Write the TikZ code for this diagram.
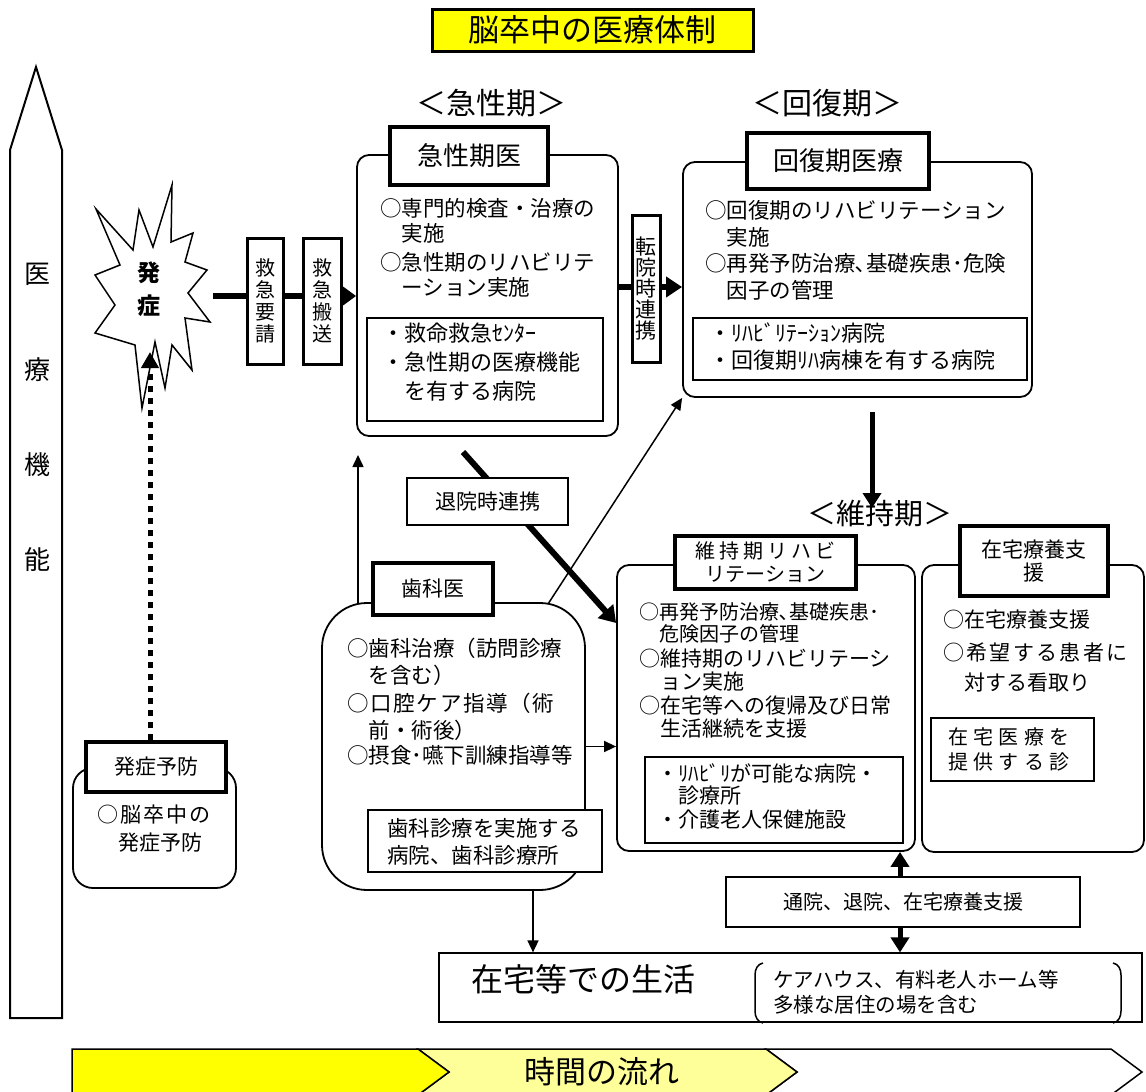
\documentclass[tikz,border=0pt]{standalone}
\usepackage{fontspec}
\setmainfont{Noto Sans CJK JP}
\usetikzlibrary{arrows.meta}
\definecolor{ylw}{RGB}{255,255,0}
\definecolor{lylw}{RGB}{255,255,153}
\newcommand\myfs[1]{\fontsize{#1}{#1}\selectfont}
\newcommand\myfsb[2]{\fontsize{#1}{#2}\selectfont\lineskiplimit=-100pt\relax}
\newcommand\lsp[2]{{\addfontfeature{LetterSpace=#1}#2}}
\pgfdeclarelayer{bg}
\pgfsetlayers{bg,main}
\tikzset{
 rbox/.style={draw, line width=1.8pt, rounded corners=12pt, fill=white, inner sep=0pt},
 tbox/.style={draw, line width=3.5pt, fill=white, inner sep=0pt, align=center},
 ibox/.style={draw, line width=1.8pt, fill=white, inner sep=0pt},
 vbox/.style={draw, line width=3pt, fill=white, inner sep=0pt, align=center},
 txt/.style={inner sep=0pt, anchor=north west, align=left},
 fatarrow/.style={line width=6pt, -{Triangle[length=16pt,width=20pt]}},
 midarrow/.style={line width=5pt, -{Triangle[length=15pt,width=18pt]}},
 slimarrow/.style={line width=1.5pt, -{Triangle[length=12pt,width=11pt]}},
 dotarrow/.style={line width=5pt, dash pattern=on 6pt off 6pt, -{Triangle[length=16pt,width=17pt]}},
}
\begin{document}
\begin{tikzpicture}[x=1pt,y=-1pt]
\useasboundingbox (0,0) rectangle (1146,1092);
\begin{pgfonlayer}{bg}
\fill[white] (0,0) rectangle (1146,1092);
\end{pgfonlayer}

% title
\node[draw, line width=3pt, fill=ylw, minimum width=321pt, minimum height=42pt, inner sep=0pt, font=\myfs{31}] (title) at (592.5,30) {脳卒中の医療体制};

% headers
\node[font=\myfs{30}, inner sep=0pt] (hA) at (491,103) {＜急性期＞};
\node[font=\myfs{30}, inner sep=0pt] (hR) at (827,103) {＜回復期＞};
\node[font=\myfs{29}, inner sep=0pt] (hM) at (880,514) {＜維持期＞};

% left vertical arrow
\draw[line width=2pt, fill=white] (10,150) -- (36,67) -- (62,150) -- (62,1018) -- (10,1018) -- cycle;
\node[font=\myfs{26}, inner sep=0pt] (k1) at (37,274) {医};
\node[font=\myfs{26}, inner sep=0pt] (k2) at (37,370) {療};
\node[font=\myfs{26}, inner sep=0pt] (k3) at (37,465) {機};
\node[font=\myfs{26}, inner sep=0pt] (k4) at (37,560) {能};

% star
\draw[line width=1.5pt, fill=white] (172,185) -- (171,242) -- (193,233) -- (185,262) -- (207,270) -- (188,293) -- (210,322) -- (185,318) -- (192,370) -- (172,345) -- (165,388) -- (155,342) -- (142,408) -- (135,345) -- (95,333) -- (115,305) -- (95,275) -- (120,265) -- (96,209) -- (133,250) -- (139,210) -- (153,247) -- cycle;
\node[font=\myfsb{23}{33}\bfseries, align=center, inner sep=0pt] (onset) at (149,289) {発\\症};

% main boxes
\node[rbox, minimum width=261pt, minimum height=281pt] (acute) at (487.5,295.5) {};
\node[rbox, minimum width=349pt, minimum height=235pt] (recov) at (857.5,279.5) {};
\node[rbox, rounded corners=45pt, minimum width=263pt, minimum height=287pt] (dent) at (453.5,746.5) {};
\node[rbox, minimum width=298pt, minimum height=286pt] (maint) at (766,708) {};
\node[rbox, minimum width=222pt, minimum height=287pt] (home) at (1033,708.5) {};
\node[rbox, rounded corners=20pt, minimum width=163pt, minimum height=120pt] (prev) at (154.5,828) {};

% title boxes
\node[tbox, minimum width=158pt, minimum height=58pt, font=\myfs{26}] (acuteT) at (469,156) {急性期医};
\node[tbox, minimum width=182pt, minimum height=56pt, font=\myfs{26}] (recovT) at (838,161) {回復期医療};
\node[tbox, minimum width=120pt, minimum height=52pt, font=\myfs{21}] (dentT) at (433,589) {歯科医};
\node[tbox, minimum width=181pt, minimum height=53pt, font=\myfsb{20}{23}] (maintT) at (765.5,562.5) {\lsp{20}{維持期リハビ}\\リテーション};
\node[tbox, minimum width=148pt, minimum height=70pt, font=\myfsb{21}{23}] (homeT) at (1034,561) {在宅療養支\\援};
\node[tbox, minimum width=140pt, minimum height=50pt, font=\myfs{21}] (prevT) at (156,767) {発症予防};

% inner boxes
\node[ibox, minimum width=236pt, minimum height=103pt] (acuteI) at (485,369.5) {};
\node[ibox, minimum width=334pt, minimum height=62pt] (recovI) at (860,349) {};
\node[ibox, minimum width=234pt, minimum height=62pt] (dentI) at (485,841) {};
\node[ibox, minimum width=258pt, minimum height=86pt] (maintI) at (774,800) {};
\node[ibox, minimum width=163pt, minimum height=63pt] (homeI) at (1012.5,749.5) {};

% small boxes
\node[vbox, minimum width=36pt, minimum height=126pt, font=\myfsb{20}{22}] (req) at (265,301) {救\\急\\要\\請};
\node[vbox, minimum width=38pt, minimum height=126pt, font=\myfsb{20}{22}] (trans) at (322,301) {救\\急\\搬\\送};
\node[vbox, minimum width=28pt, minimum height=147pt, font=\myfsb{21}{20.8}] (tenin) at (646,288.5) {転\\院\\時\\連\\携};
\node[ibox, line width=1.2pt, minimum width=161pt, minimum height=47pt, font=\myfs{21}] (taiin) at (487.5,501.5) {退院時連携};
\node[ibox, line width=1.2pt, minimum width=354pt, minimum height=50pt, font=\myfs{20}] (tsuin) at (903,902) {通院、退院、在宅療養支援};
\node[ibox, line width=1.2pt, minimum width=703pt, minimum height=69pt] (life) at (790.5,987.5) {};

% texts
\node[txt, font=\myfsb{21.5}{25.5}] (a1) at (380,198) {○専門的検査・治療の\\　実施};
\node[txt, font=\myfsb{21.5}{25.5}] (a2) at (380,252) {○急性期のリハビリテ\\　ーション実施};
\node[txt, font=\myfsb{22}{29}] (a3) at (382,323) {・救命救急ｾﾝﾀｰ\\・急性期の医療機能\\　を有する病院};
\node[txt, font=\myfsb{21.5}{27}] (r1) at (705,200) {○回復期のリハビリテーション\\　実施};
\node[txt, font=\myfsb{21.5}{27}] (r2) at (705,253) {○再発予防治療､基礎疾患･危険\\　因子の管理};
\node[txt, font=\myfsb{22}{27}] (r3) at (709,323) {・ﾘﾊﾋﾞﾘﾃｰｼｮﾝ病院\\・回復期ﾘﾊ病棟を有する病院};
\node[txt, font=\myfsb{21.5}{27}] (d1) at (347,638) {○歯科治療（訪問診療\\　を含む）};
\node[txt, font=\myfsb{21.5}{27}] (d2) at (347,693) {\lsp{8}{○口腔ケア指導（術}\\　前・術後）};
\node[txt, font=\myfs{21.5}] (d3) at (347,745) {○摂食･嚥下訓練指導等};
\node[txt, font=\myfsb{21.5}{27}] (d4) at (387,818) {歯科診療を実施する\\病院、歯科診療所};
\node[txt, font=\myfsb{20}{22}] (m1) at (639,602) {○再発予防治療､基礎疾患･\\　危険因子の管理};
\node[txt, font=\myfsb{21}{23}] (m2) at (639,649) {○維持期のリハビリテーシ\\　ョン実施};
\node[txt, font=\myfsb{21}{23}] (m3) at (639,696) {○在宅等への復帰及び日常\\　生活継続を支援};
\node[txt, font=\myfsb{21}{22}] (m4) at (657,763) {・ﾘﾊﾋﾞﾘが可能な病院・\\　診療所};
\node[txt, font=\myfs{21}] (m5) at (657,810) {・介護老人保健施設};
\node[txt, font=\myfs{21}] (h1) at (943,610) {○在宅療養支援};
\node[txt, font=\myfsb{21}{30}] (h2) at (943,643) {\lsp{11}{○希望する患者に}\\　対する看取り};
\node[txt, font=\myfsb{20}{25}] (h3) at (948,727) {\lsp{27}{在宅医療を}\\\lsp{27}{提供する診}};
\node[txt, font=\myfsb{21}{28}] (p1) at (97,805) {\lsp{10}{○脳卒中の}\\　発症予防};
\node[font=\myfs{32}, inner sep=0pt, anchor=west] (lifeT) at (471,979) {在宅等での生活};
\node[txt, font=\myfsb{20.5}{25}] (care) at (773,970) {ケアハウス、有料老人ホーム等\\多様な居住の場を含む};

% bracket
\draw[line width=1.5pt] (763,963) to[out=190,in=90] (755,975) -- (755,1011) to[out=-90,in=170] (763,1023);
\draw[line width=1.5pt] (1113,963) to[out=-10,in=90] (1121,975) -- (1121,1011) to[out=-90,in=10] (1113,1023);

% time arrow
\draw[line width=1.5pt, fill=white] (766,1049) -- (1111,1049) -- (1142,1072) -- (1111,1095) -- (766,1095) -- (797,1072) -- cycle;
\draw[line width=1.5pt, fill=lylw] (418,1049) -- (766,1049) -- (797,1072) -- (766,1095) -- (418,1095) -- (449,1072) -- cycle;
\draw[line width=1.5pt, fill=ylw] (72,1049) -- (418,1049) -- (449,1072) -- (418,1095) -- (72,1095) -- cycle;
\node[font=\myfs{31}, inner sep=0pt] (timeT) at (602,1072) {時間の流れ};

% connectors (behind boxes)
\begin{pgfonlayer}{bg}
\coordinate (sR) at (213,296);
\draw[line width=6pt, -{Triangle[length=13pt,width=18pt]}] (sR) -- (sR -| acute.west);
\coordinate (tA) at ([yshift=8.5pt]acute.east);
\draw[fatarrow] (tA) -- (tA -| recov.west);
\coordinate (rB) at (872,412);
\coordinate (rE) at (872,508);
\draw[midarrow] (rB) -- (rE);
\coordinate (dg1) at (463,452);
\coordinate (dg2) at ([yshift=85pt]maint.west);
\draw[fatarrow] (dg1) -- (dg2);
\coordinate (dA1) at (358,605);
\coordinate (dA2) at (358,455);
\draw[slimarrow] (dA1) -- (dA2);
\coordinate (dR) at (548,604);
\draw[slimarrow] (dR) -- (recov.south west);
\draw[slimarrow] (dent.east) -- (dent.east -| maint.west);
\coordinate (dB) at (533,890);
\draw[slimarrow] (dB) -- (dB |- life.north);
\coordinate (tsN) at ([xshift=-3pt]tsuin.north);
\coordinate (tsS) at ([xshift=-3pt]tsuin.south);
\draw[midarrow] (tsN) -- (tsN |- maint.south);
\draw[midarrow] (tsS) -- (tsS |- life.north);
\end{pgfonlayer}

% dotted arrow onto star
\coordinate (pvT) at ([xshift=-6pt]prevT.north);
\coordinate (sB) at (150,352);
\draw[dotarrow] (pvT) -- (sB);
\end{tikzpicture}
\end{document}
